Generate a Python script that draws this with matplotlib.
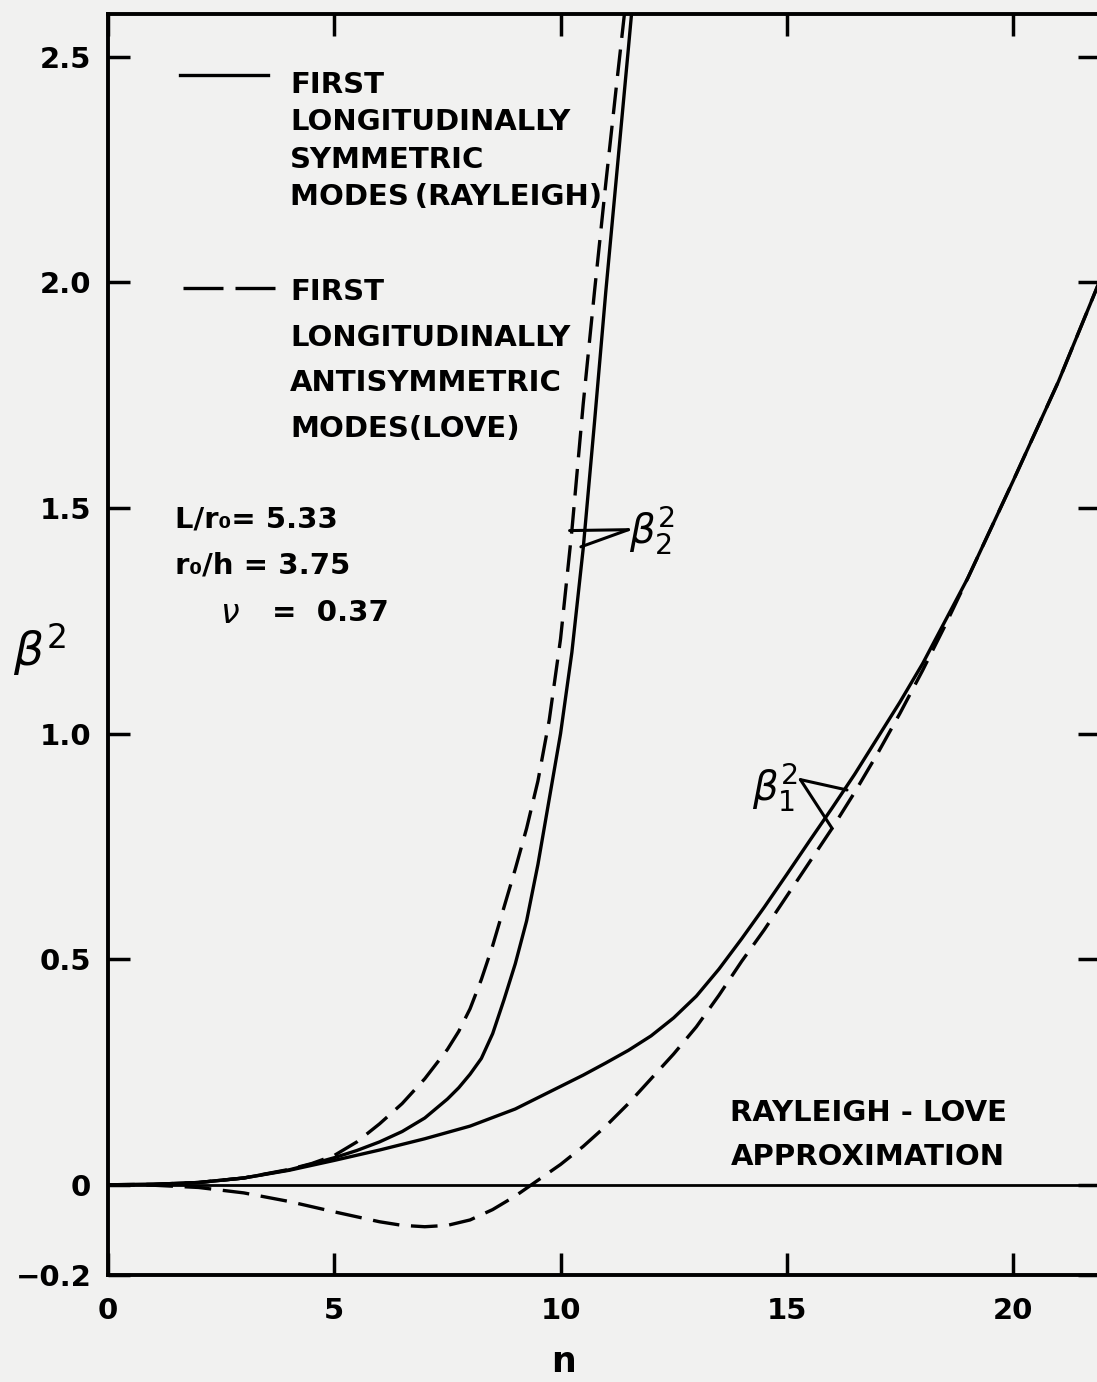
import matplotlib
matplotlib.use('Agg')
import matplotlib.pyplot as plt

plt.rcParams['font.family'] = ['DejaVu Sans']
plt.rcParams['mathtext.fontset'] = 'dejavusans'

# first longitudinally symmetric mode (Rayleigh), beta_1^2
n1_sym = [0, 1, 2, 3, 4, 5, 6, 7, 8, 9, 10, 10.5, 11, 11.5, 12, 12.5, 13, 13.5, 14,
          14.5, 15, 15.5, 16, 16.5, 17, 17.5, 18, 19, 20, 21, 21.9]
b1_sym = [0, 0.001, 0.005, 0.015, 0.032, 0.054, 0.077, 0.102, 0.13, 0.168, 0.218, 0.243,
          0.27, 0.298, 0.33, 0.37, 0.418, 0.478, 0.545, 0.615, 0.688, 0.762, 0.835, 0.91,
          0.99, 1.07, 1.155, 1.345, 1.56, 1.78, 2.0]

# first longitudinally antisymmetric mode (Love), beta_1^2
n1_anti = [0, 1, 2, 3, 4, 5, 5.5, 6, 6.5, 7, 7.5, 8, 8.5, 9, 9.5, 10, 10.5, 11, 11.5,
           12, 12.5, 13, 13.5, 14, 14.5, 15, 15.5, 16, 16.5, 17, 17.5, 18, 18.5, 19,
           20, 21, 21.9]
b1_anti = [0, -0.001, -0.006, -0.018, -0.037, -0.06, -0.071, -0.082, -0.09, -0.093,
           -0.09, -0.078, -0.055, -0.025, 0.01, 0.045, 0.085, 0.13, 0.18, 0.235, 0.29,
           0.35, 0.42, 0.495, 0.565, 0.64, 0.715, 0.79, 0.87, 0.955, 1.045, 1.14, 1.24,
           1.345, 1.56, 1.78, 2.0]

# second modes, beta_2^2
n2_sym = [0, 1, 2, 3, 4, 4.5, 5, 5.5, 6, 6.5, 7, 7.5, 7.75, 8, 8.25, 8.5, 8.75, 9,
          9.25, 9.5, 9.75, 10, 10.25, 10.5, 10.75, 11, 11.25, 11.5, 11.6]
b2_sym = [0, 0.001, 0.005, 0.015, 0.033, 0.046, 0.06, 0.076, 0.095, 0.118, 0.148, 0.19,
          0.215, 0.245, 0.28, 0.335, 0.41, 0.49, 0.585, 0.71, 0.855, 1.0, 1.18, 1.41,
          1.69, 1.98, 2.25, 2.52, 2.63]

n2_anti = [0, 1, 2, 3, 4, 4.5, 5, 5.5, 6, 6.5, 7, 7.5, 7.75, 8, 8.25, 8.5, 8.75, 9,
           9.25, 9.5, 9.75, 10, 10.25, 10.5, 10.75, 11, 11.25, 11.45]
b2_anti = [0, 0.001, 0.005, 0.015, 0.034, 0.047, 0.065, 0.095, 0.135, 0.18, 0.235, 0.3,
           0.34, 0.39, 0.455, 0.53, 0.615, 0.7, 0.79, 0.895, 1.03, 1.21, 1.45, 1.73,
           1.98, 2.22, 2.45, 2.63]

xticks = [0, 5, 10, 15, 20]
xlabels = ['0', '5', '10', '15', '20']
yticks = [-0.2, 0, 0.5, 1.0, 1.5, 2.0, 2.5]
ylabels = ['−0.2', '0', '0.5', '1.0', '1.5', '2.0', '2.5']

W, H = 1097, 1382
bg = '#f1f1f0'
dash = (0, (8, 3.5))
lw = 2.4


def px(x, y):
    # pixel position (from top left) -> figure fraction
    return x / W, 1 - y / H


fig = plt.figure(figsize=(W / 100, H / 100), dpi=100, facecolor=bg)
ax = fig.add_axes([108 / W, 1 - 1275 / H, (1100 - 108) / W, (1275 - 14) / H])
ax.set_facecolor(bg)

ax.plot(n1_sym, b1_sym, color='black', lw=lw)
ax.plot(n1_anti, b1_anti, color='black', lw=lw, linestyle=dash)
ax.plot(n2_sym, b2_sym, color='black', lw=lw)
ax.plot(n2_anti, b2_anti, color='black', lw=lw, linestyle=dash)
ax.axhline(0, color='black', lw=2.0)

ax.set_xlim(0, 21.92)
ax.set_ylim(-0.2, 2.595)
ax.set_xticks(xticks, xlabels)
ax.set_yticks(yticks, ylabels)
ax.tick_params(axis='both', direction='in', top=True, right=True, length=16, width=2.5,
               labelsize=21, colors='black')
ax.tick_params(axis='x', pad=16)
ax.tick_params(axis='y', pad=12)
for lab in ax.get_xticklabels() + ax.get_yticklabels():
    lab.set_fontweight('bold')
for s in ax.spines.values():
    s.set_linewidth(2.8)

# legend drawn by hand, line samples next to the first text line
ax.plot([0.0726, 0.161], [0.9516, 0.9516], transform=ax.transAxes, color='black', lw=lw)
ax.plot([0.0756, 0.168], [0.7827, 0.7827], transform=ax.transAxes, color='black', lw=lw,
        linestyle=(0, (12, 3.6)))

fs = 21
fw = 'bold'
block1 = ['FIRST', 'LONGITUDINALLY', 'SYMMETRIC', 'MODES\u2009(RAYLEIGH)']
for i, t in enumerate(block1):
    fig.text(*px(290, 85 + 37.5 * i), t, fontsize=fs, fontweight=fw, va='center', ha='left')
block2 = ['FIRST', 'LONGITUDINALLY', 'ANTISYMMETRIC', 'MODES(LOVE)']
for i, t in enumerate(block2):
    fig.text(*px(290, 292 + 45.5 * i), t, fontsize=fs, fontweight=fw, va='center', ha='left')

fig.text(*px(175, 520), 'L/r₀= 5.33', fontsize=fs, fontweight=fw, va='center', ha='left')
fig.text(*px(175, 566), 'r₀/h = 3.75', fontsize=fs, fontweight=fw, va='center', ha='left')
fig.text(*px(220, 613), r'$\nu$', fontsize=fs + 3, va='center', ha='left')
fig.text(*px(272, 613), '=  0.37', fontsize=fs, fontweight=fw, va='center', ha='left')

fig.text(*px(868, 1113), 'RAYLEIGH - LOVE', fontsize=fs, fontweight=fw, va='center', ha='center')
fig.text(*px(868, 1157), 'APPROXIMATION', fontsize=fs, fontweight=fw, va='center', ha='center')

# mode labels with pointer lines
pointer = dict(arrowstyle='-', color='black', lw=2.2, shrinkA=0, shrinkB=0)
ax.text(11.52, 1.45, r'$\beta_2^2$', fontsize=29, va='center', ha='left')
ax.annotate('', xy=(10.2, 1.45), xytext=(11.5, 1.452), arrowprops=pointer)
ax.annotate('', xy=(10.45, 1.414), xytext=(11.5, 1.452), arrowprops=pointer)

ax.text(15.25, 0.88, r'$\beta_1^2$', fontsize=29, va='center', ha='right')
ax.annotate('', xy=(16.33, 0.875), xytext=(15.3, 0.898), arrowprops=pointer)
ax.annotate('', xy=(16.0, 0.79), xytext=(15.3, 0.898), arrowprops=pointer)

fig.text(*px(40, 650), r'$\beta^2$', fontsize=34, va='center', ha='center')
fig.text(*px(563, 1362), 'n', fontsize=25, fontweight=fw, va='center', ha='center')

fig.savefig('out.png', dpi=100, facecolor=bg)
